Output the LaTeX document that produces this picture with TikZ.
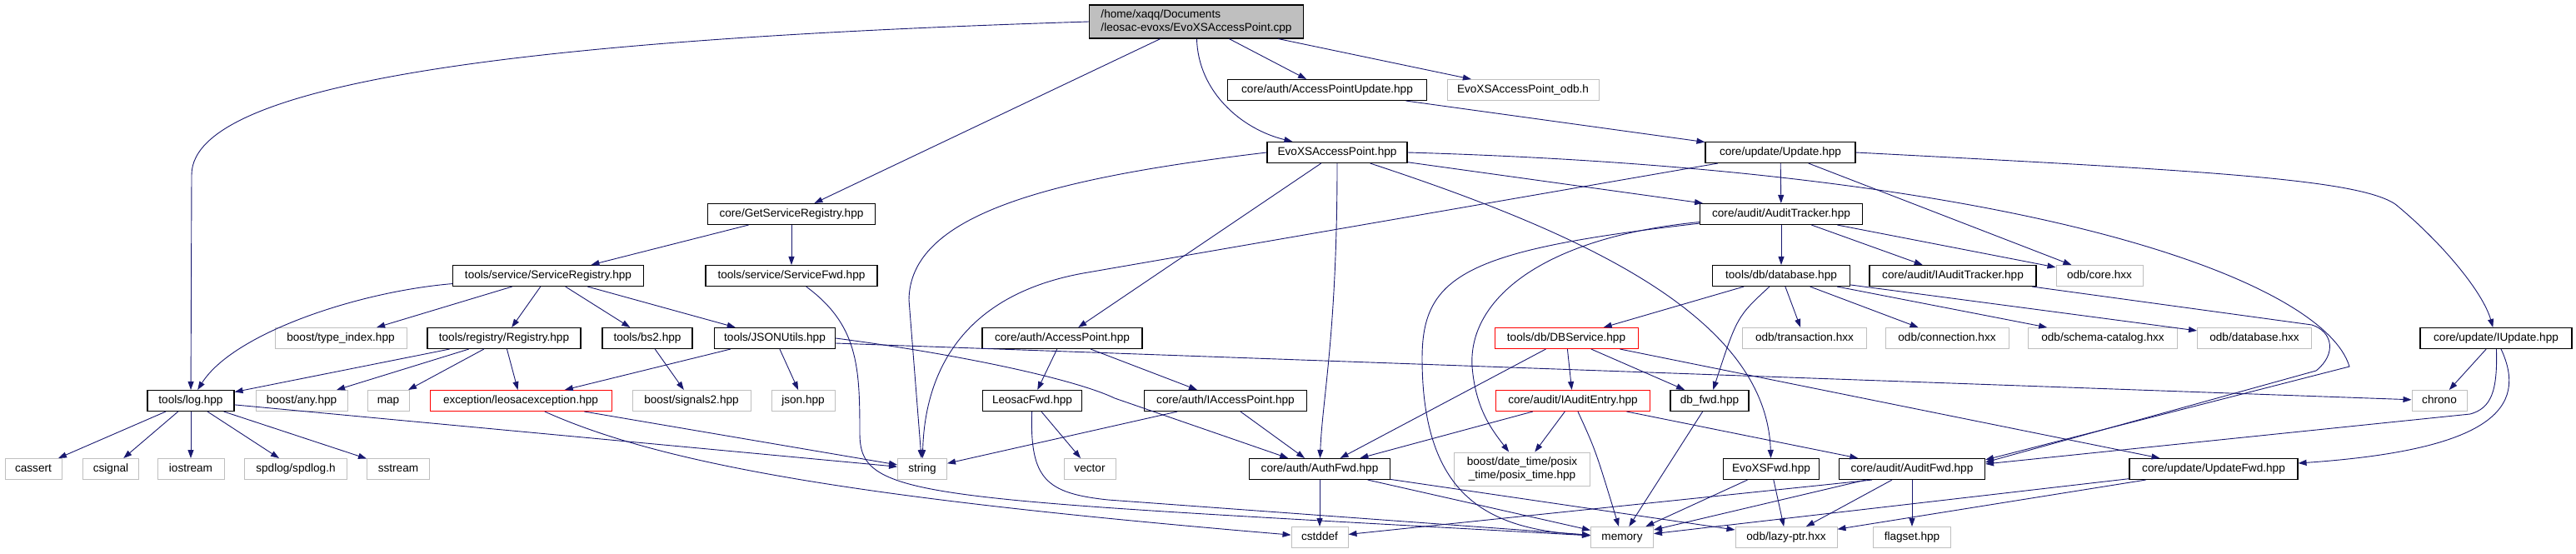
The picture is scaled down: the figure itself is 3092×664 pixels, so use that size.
\documentclass[tikz,border=0pt]{standalone}
\usepackage{fontspec}
\setmainfont{Liberation Sans}
\usepackage{tikz}
\usetikzlibrary{arrows.meta}
\definecolor{depblue}{RGB}{25, 25, 112}
\definecolor{sysgray}{RGB}{191, 191, 191}
\definecolor{rootgray}{RGB}{191, 191, 191}
\definecolor{truncred}{RGB}{255, 0, 0}
\newcommand{\depfont}{\fontsize{13.6}{15.5}\selectfont}
\begin{document}
\begin{tikzpicture}[x=1pt, y=-1pt,
        box/.style={draw, minimum height=25pt, inner sep=0pt, font=\depfont, fill=white},
        hdr/.style={box, draw=black, line width=1.1pt, text height=10pt, text depth=3pt},
        sys/.style={hdr, draw=sysgray, line width=1pt},
        trunc/.style={hdr, draw=truncred, line width=1pt},
        dep/.style={-{Triangle[length=10pt, width=7pt]}, color=depblue, line width=0.9pt}
      ]
        \useasboundingbox (0,0) rectangle (3092,664);
        \node[box, line width=1.1pt, fill=rootgray, minimum width=257pt, minimum height=40pt, align=left] (root) at (1436,26) {/home/xaqq/Documents\\/leosac-evoxs/EvoXSAccessPoint.cpp};
        \node[hdr, minimum width=239pt] (apu)      at (1593,108) {core/auth/AccessPointUpdate.hpp};
        \node[sys, minimum width=182pt] (odbh)     at (1828,108) {EvoXSAccessPoint\_odb.h};
        \node[hdr, minimum width=168pt] (evoxshpp) at (1605,183) {EvoXSAccessPoint.hpp};
        \node[hdr, minimum width=180pt] (update)   at (2137,183) {core/update/Update.hpp};
        \node[hdr, minimum width=201pt] (getsr)        at (950,257)  {core/GetServiceRegistry.hpp};
        \node[hdr, minimum width=195pt] (audittracker) at (2138,257) {core/audit/AuditTracker.hpp};
        \node[hdr, minimum width=229pt] (servreg)       at (658,331)  {tools/service/ServiceRegistry.hpp};
        \node[hdr, minimum width=206pt] (servfwd)       at (950,331)  {tools/service/ServiceFwd.hpp};
        \node[hdr, minimum width=165pt] (database)      at (2138,331) {tools/db/database.hpp};
        \node[hdr, minimum width=200pt] (iaudittracker) at (2344,331) {core/audit/IAuditTracker.hpp};
        \node[sys, minimum width=104pt] (odbcore)       at (2520,331) {odb/core.hxx};
        \node[sys, minimum width=158pt]   (typeindex)   at (409,406)  {boost/type\_index.hpp};
        \node[hdr, minimum width=184pt]   (registry)    at (605,406)  {tools/registry/Registry.hpp};
        \node[hdr, minimum width=108pt]   (bs2)         at (777,406)  {tools/bs2.hpp};
        \node[hdr, minimum width=145pt]   (jsonutils)   at (930,406)  {tools/JSONUtils.hpp};
        \node[hdr, minimum width=192pt]   (accesspoint) at (1275,406) {core/auth/AccessPoint.hpp};
        \node[trunc, minimum width=172pt] (dbservice)   at (1880,406) {tools/db/DBService.hpp};
        \node[sys, minimum width=149pt]   (transaction) at (2166,406) {odb/transaction.hxx};
        \node[sys, minimum width=148pt]   (connection)  at (2337,406) {odb/connection.hxx};
        \node[sys, minimum width=179pt]   (schema)      at (2524,406) {odb/schema-catalog.hxx};
        \node[sys, minimum width=137pt]   (dbhxx)       at (2706,406) {odb/database.hxx};
        \node[hdr, minimum width=182pt]   (iupdate)     at (2996,406) {core/update/IUpdate.hpp};
        \node[hdr, minimum width=104pt]   (log)          at (229,481)  {tools/log.hpp};
        \node[sys, minimum width=110pt]   (any)          at (362,481)  {boost/any.hpp};
        \node[sys, minimum width=50pt]    (map)          at (466,481)  {map};
        \node[trunc, minimum width=218pt] (leosacexc)    at (625,481)  {exception/leosacexception.hpp};
        \node[sys, minimum width=142pt]   (signals2)     at (830,481)  {boost/signals2.hpp};
        \node[sys, minimum width=76pt]    (json)         at (964,481)  {json.hpp};
        \node[hdr, minimum width=119pt]   (leosacfwd)    at (1239,481) {LeosacFwd.hpp};
        \node[hdr, minimum width=195pt]   (iaccesspoint) at (1471,481) {core/auth/IAccessPoint.hpp};
        \node[trunc, minimum width=185pt] (iauditentry)  at (1888,481) {core/audit/IAuditEntry.hpp};
        \node[hdr, minimum width=94pt]    (dbfwd)        at (2052,481) {db\_fwd.hpp};
        \node[sys, minimum width=66pt]    (chrono)       at (2928,481) {chrono};
        \node[sys, minimum width=68pt]  (cassert)   at (40,563)   {cassert};
        \node[sys, minimum width=67pt]  (csignal)   at (133,563)  {csignal};
        \node[sys, minimum width=80pt]  (iostream)  at (229,563)  {iostream};
        \node[sys, minimum width=123pt] (spdlog)    at (355,563)  {spdlog/spdlog.h};
        \node[sys, minimum width=75pt]  (sstream)   at (478,563)  {sstream};
        \node[sys, minimum width=59pt]  (string)    at (1107,563) {string};
        \node[sys, minimum width=62pt]  (vector)    at (1308,563) {vector};
        \node[hdr, minimum width=169pt] (authfwd)   at (1584,563) {core/auth/AuthFwd.hpp};
        \node[box, draw=sysgray, line width=1pt, minimum width=163pt, minimum height=40pt, align=center] (posix) at (1827,563) {boost/date\_time/posix\\\_time/posix\_time.hpp};
        \node[hdr, minimum width=115pt] (evoxsfwd)  at (2126,563) {EvoXSFwd.hpp};
        \node[hdr, minimum width=175pt] (auditfwd)  at (2295,563) {core/audit/AuditFwd.hpp};
        \node[hdr, minimum width=202pt] (updatefwd) at (2657,563) {core/update/UpdateFwd.hpp};
        \node[sys, minimum width=68pt]  (cstddef)   at (1584,645) {cstddef};
        \node[sys, minimum width=75pt]  (memory)    at (1947,645) {memory};
        \node[sys, minimum width=122pt] (lazyptr)   at (2144,645) {odb/lazy-ptr.hxx};
        \node[sys, minimum width=93pt]  (flagset)   at (2295,645) {flagset.hpp};
        \draw[dep] (root.west) .. controls (700,45) and (230,90) .. (230,210) -- (log);
        \draw[dep] (root) -- (getsr);
        \draw[dep] (root) .. controls (1438,110) and (1490,155) .. (evoxshpp);
        \draw[dep] (root) -- (apu);
        \draw[dep] (root) -- (odbh);
        \draw[dep] (apu) -- (update);
        \draw[dep] (evoxshpp.west) .. controls (1250,215) and (1092,260) .. (1091,360) -- (string);
        \draw[dep] (evoxshpp) -- (accesspoint);
        \draw[dep] (evoxshpp.south) .. controls (1605,400) and (1587,480) .. (authfwd);
        \draw[dep] (evoxshpp) .. controls (1900,280) and (2120,380) .. (evoxsfwd);
        \draw[dep] (evoxshpp) -- (audittracker);
        \draw[dep] (evoxshpp.east) .. controls (2450,205) and (2790,340) .. (2820,440) -- ([yshift=-2pt]auditfwd.north east);
        \draw[dep] (update) -- (1300,328) .. controls (1152,355) and (1110,450) .. (string);
        \draw[dep] (update) -- (audittracker);
        \draw[dep] (update) -- (odbcore);
        \draw[dep] (update.east) .. controls (2650,205) and (2830,215) .. (2875,245) .. controls (2930,290) and (2980,350) .. (iupdate);
        \draw[dep] (audittracker) -- (database);
        \draw[dep] (audittracker) -- (iaudittracker);
        \draw[dep] (audittracker) -- (odbcore);
        \draw[dep] (audittracker) .. controls (1760,300) and (1707,330) .. (1707,430) .. controls (1707,600) and (1790,635) .. (memory);
        \draw[dep] (audittracker) .. controls (1850,285) and (1762,360) .. (1767,440) .. controls (1771,490) and (1790,515) .. (posix);
        \draw[dep] (getsr) -- (servreg);
        \draw[dep] (getsr) -- (servfwd);
        \draw[dep] (servfwd) .. controls (1030,390) and (1032,440) .. (1032,520) .. controls (1032,600) and (1100,598) .. (memory);
        \draw[dep] (servreg) .. controls (430,350) and (280,400) .. (log);
        \draw[dep] (servreg) -- (typeindex);
        \draw[dep] (servreg) -- (registry);
        \draw[dep] (servreg) -- (bs2);
        \draw[dep] (servreg) -- (jsonutils);
        \draw[dep] (registry) -- (log);
        \draw[dep] (registry) -- (any);
        \draw[dep] (registry) -- (map);
        \draw[dep] (registry) -- (leosacexc);
        \draw[dep] (bs2) -- (signals2);
        \draw[dep] (jsonutils) -- (leosacexc);
        \draw[dep] (jsonutils) -- (json);
        \draw[dep] ([yshift=-6pt]jsonutils.east) -- (chrono);
        \draw[dep] (jsonutils.east) .. controls (1150,425) and (1290,455) .. (1338,478) -- (authfwd);
        \draw[dep] (log) -- (cassert);
        \draw[dep] (log) -- (csignal);
        \draw[dep] (log) -- (iostream);
        \draw[dep] (log) -- (spdlog);
        \draw[dep] (log) -- (sstream);
        \draw[dep] (log) -- (string);
        \draw[dep] (leosacexc) -- (string);
        \draw[dep] (leosacexc) .. controls (800,560) and (1050,600) .. (cstddef);
        \draw[dep] (accesspoint) -- (leosacfwd);
        \draw[dep] (accesspoint) -- (iaccesspoint);
        \draw[dep] (leosacfwd) -- (vector);
        \draw[dep] (leosacfwd) .. controls (1236,575) and (1255,592) .. (1330,600) -- (memory);
        \draw[dep] (iaccesspoint) -- (string);
        \draw[dep] (iaccesspoint) -- (authfwd);
        \draw[dep] (authfwd) -- (cstddef);
        \draw[dep] (authfwd) -- (memory);
        \draw[dep] (authfwd) -- (lazyptr);
        \draw[dep] (dbservice) -- (authfwd);
        \draw[dep] (dbservice) -- (iauditentry);
        \draw[dep] (dbservice) -- (dbfwd);
        \draw[dep] (dbservice) -- (updatefwd);
        \draw[dep] (database) -- (dbservice);
        \draw[dep] (database) .. controls (2085,380) .. (dbfwd);
        \draw[dep] (database) -- (transaction);
        \draw[dep] (database) -- (connection);
        \draw[dep] (database) -- (schema);
        \draw[dep] (database) -- (dbhxx);
        \draw[dep] (iaudittracker) -- (2775,390) .. controls (2800,398) and (2805,425) .. (2780,445) -- ([yshift=-5pt]auditfwd.north east);
        \draw[dep] (iauditentry) -- (authfwd);
        \draw[dep] (iauditentry) -- (posix);
        \draw[dep] (iauditentry) .. controls (1915,540) .. (memory);
        \draw[dep] (iauditentry) -- (auditfwd);
        \draw[dep] (dbfwd) -- (memory);
        \draw[dep] (evoxsfwd) -- (memory);
        \draw[dep] (evoxsfwd) -- (lazyptr);
        \draw[dep] ([xshift=40pt]auditfwd.south west) -- (cstddef);
        \draw[dep] (auditfwd) -- (memory);
        \draw[dep] (auditfwd) -- (lazyptr);
        \draw[dep] (auditfwd) -- (flagset);
        \draw[dep] (updatefwd) -- (memory);
        \draw[dep] (updatefwd) -- (lazyptr);
        \draw[dep] (iupdate) -- (chrono);
        \draw[dep] (iupdate) .. controls (2998,470) and (2990,490) .. (2965,497) -- ([yshift=-7pt]auditfwd.north east);
        \draw[dep] (iupdate) .. controls (3035,490) and (2990,540) .. (updatefwd);
      \end{tikzpicture}
\end{document}
